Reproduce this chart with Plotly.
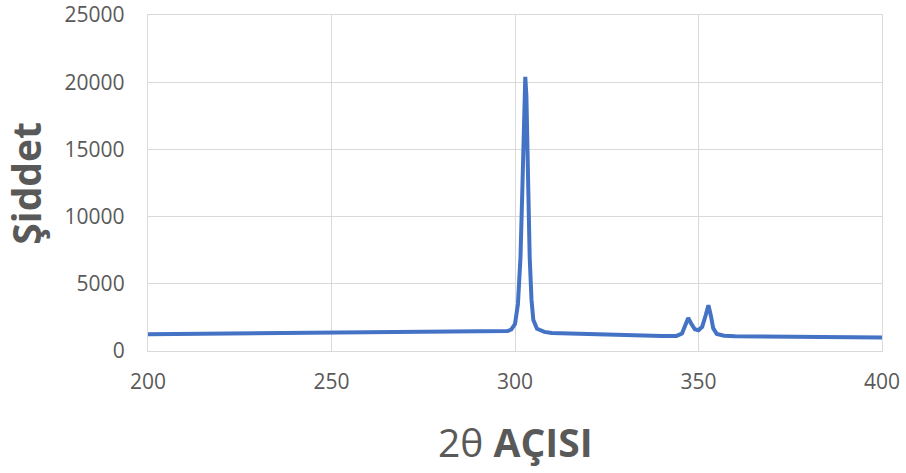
import plotly.graph_objects as go

angle = [200, 205, 210, 215, 220, 225, 230, 235, 240, 245, 250, 255, 260, 265, 270, 275, 280, 285, 290, 294, 296, 298, 299,
         300, 300.8, 301.5, 302, 302.5, 302.8, 303.1, 303.5, 304, 304.5, 305, 306, 308, 310, 315, 320, 325, 330, 335,
         340, 344, 345.5, 346.5, 347.2, 348, 349, 350, 351, 352, 352.7, 353.4, 354, 355, 357, 360, 365, 370, 375,
         380, 385, 390, 395, 400]
intensity = [1250, 1260, 1275, 1290, 1300, 1310, 1320, 1330, 1340, 1345, 1350, 1355, 1360, 1365, 1380, 1375, 1380, 1390, 1400, 1410, 1430, 1480, 1600,
             2000, 3500, 7000, 12000, 18500, 20400, 19000, 13000, 7000, 3800, 2300, 1650, 1420, 1340, 1290, 1250, 1220, 1190, 1150,
             1120, 1120, 1300, 1900, 2450, 2050, 1620, 1550, 1800, 2700, 3400, 2600, 1700, 1260, 1140, 1100, 1080, 1070, 1055,
             1040, 1030, 1020, 1010, 1000]

xticks = [200, 250, 300, 350, 400]
yticks = [0, 5000, 10000, 15000, 20000, 25000]

font_family = "Open Sans"
gray = "#595959"
grid = "#d9d9d9"

fig = go.Figure()
fig.add_trace(go.Scatter(x=angle, y=intensity, mode="lines",
                         line=dict(color="#4472C4", width=4), hoverinfo="skip"))

fig.update_layout(
    width=906, height=473,
    margin=dict(l=148, r=24, t=15, b=122),
    paper_bgcolor="white", plot_bgcolor="white",
    showlegend=False,
    font=dict(family=font_family, color=gray),
    xaxis=dict(range=[200, 400], tickvals=xticks, ticktext=[str(v) for v in xticks],
               showgrid=True, gridcolor=grid, gridwidth=1.3, zeroline=False,
               showline=True, linecolor=grid, linewidth=1.3, mirror=True,
               ticks="outside", ticklen=12, tickcolor="rgba(0,0,0,0)", automargin=False,
               ticklabeloverflow="allow",
               tickfont=dict(size=21, color=gray, family=font_family)),
    yaxis=dict(range=[0, 25000], tickvals=yticks, ticktext=[str(v) for v in yticks],
               showgrid=True, gridcolor=grid, gridwidth=1.3, zeroline=False,
               showline=True, linecolor=grid, linewidth=1.3, mirror=True,
               ticks="outside", ticklen=18, tickcolor="rgba(0,0,0,0)", automargin=False,
               ticklabeloverflow="allow",
               tickfont=dict(size=21, color=gray, family=font_family)),
    annotations=[
        dict(text="2θ <b>AÇISI</b>", xref="paper", yref="paper", x=0.5, y=-0.268,
             xanchor="center", yanchor="middle", showarrow=False,
             font=dict(size=39, color=gray, family=font_family)),
        dict(text="<b>Şiddet</b>", xref="paper", yref="paper", x=-0.168, y=0.5,
             xanchor="center", yanchor="middle", showarrow=False, textangle=-90,
             font=dict(size=39, color=gray, family=font_family)),
    ],
)

fig.write_html("out.html", config={"displayModeBar": False},
               post_script="document.body.style.margin='0';document.body.style.overflow='hidden';")
